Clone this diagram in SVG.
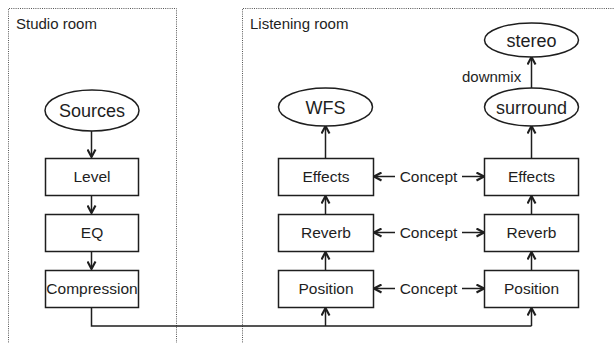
<svg xmlns="http://www.w3.org/2000/svg" width="614" height="343" viewBox="0 0 614 343">
  <defs>
    <marker id="head" viewBox="0 0 10 10" refX="9" refY="5" markerWidth="10" markerHeight="10" markerUnits="userSpaceOnUse" orient="auto-start-reverse">
      <path d="M1.5 1 L9 5 L1.5 9" fill="none" stroke="#1e1e1e" stroke-width="2.1"/>
    </marker>
    <style>
      .room { fill: none; stroke: #555; stroke-width: 1; stroke-dasharray: 1 1.2; }
      .node rect, .node ellipse { fill: #fff; stroke: #1e1e1e; stroke-width: 1.5; }
      text { font-family: "Liberation Sans", Arial, sans-serif; fill: #1e1e1e; }
      .title { font-size: 15px; }
      .box { font-size: 15.5px; text-anchor: middle; }
      .oval { font-size: 18px; text-anchor: middle; }
      .lbl { font-size: 15.5px; text-anchor: middle; }
      .edge { fill: none; stroke: #1e1e1e; stroke-width: 1.5; }
      .arr { marker-end: url(#head); }
    </style>
  </defs>
  <rect width="614" height="343" fill="#fff"/>

  <!-- rooms -->
  <g id="studio-room">
    <path class="room" d="M8.5 360 V8.5 H176.5 V360"/>
    <text class="title" x="16" y="29">Studio room</text>
  </g>
  <g id="listening-room">
    <path class="room" d="M242.5 360 V8.5 H630"/>
    <text class="title" x="250" y="29">Listening room</text>
  </g>

  <!-- connectors -->
  <g id="connectors">
    <path class="edge arr" d="M91.5 131 V157"/>
    <path class="edge arr" d="M91.5 195 V213"/>
    <path class="edge arr" d="M91.5 251 V269"/>
    <path class="edge" d="M91.5 307 V326 H531.5"/>
    <path class="edge arr" d="M325.5 326 V308"/>
    <path class="edge arr" d="M531.5 326 V308"/>
    <path class="edge arr" d="M325.5 270 V252"/>
    <path class="edge arr" d="M531.5 270 V252"/>
    <path class="edge arr" d="M325.5 214 V196"/>
    <path class="edge arr" d="M531.5 214 V196"/>
    <path class="edge arr" d="M325.5 158 V126"/>
    <path class="edge arr" d="M531.5 158 V126"/>
    <path class="edge arr" d="M531.5 88 V57"/>
    <text class="title" x="462" y="82">downmix</text>
    <!-- concept links -->
    <path class="edge arr" d="M395 176.5 H374"/>
    <path class="edge arr" d="M462 176.5 H484"/>
    <text class="lbl" x="428.5" y="182">Concept</text>
    <path class="edge arr" d="M395 232.5 H374"/>
    <path class="edge arr" d="M462 232.5 H484"/>
    <text class="lbl" x="428.5" y="238">Concept</text>
    <path class="edge arr" d="M395 288.5 H374"/>
    <path class="edge arr" d="M462 288.5 H484"/>
    <text class="lbl" x="428.5" y="294">Concept</text>
  </g>

  <!-- studio chain -->
  <g id="sources" class="node">
    <ellipse cx="92" cy="110.5" rx="47" ry="20.5"/>
    <text class="oval" x="92" y="117">Sources</text>
  </g>
  <g id="level" class="node">
    <rect x="45.5" y="158.5" width="93" height="37"/>
    <text class="box" x="92" y="182">Level</text>
  </g>
  <g id="eq" class="node">
    <rect x="45.5" y="214.5" width="93" height="37"/>
    <text class="box" x="92" y="238">EQ</text>
  </g>
  <g id="compression" class="node">
    <rect x="45.5" y="270.5" width="93" height="37"/>
    <text class="box" x="92" y="294">Compression</text>
  </g>

  <!-- WFS chain -->
  <g id="wfs" class="node">
    <ellipse cx="325.5" cy="107" rx="47" ry="19"/>
    <text class="oval" x="325.5" y="113.5">WFS</text>
  </g>
  <g id="effects-wfs" class="node">
    <rect x="278.5" y="158.5" width="95" height="37"/>
    <text class="box" x="326" y="182">Effects</text>
  </g>
  <g id="reverb-wfs" class="node">
    <rect x="278.5" y="214.5" width="95" height="37"/>
    <text class="box" x="326" y="238">Reverb</text>
  </g>
  <g id="position-wfs" class="node">
    <rect x="278.5" y="270.5" width="95" height="37"/>
    <text class="box" x="326" y="294">Position</text>
  </g>

  <!-- surround chain -->
  <g id="stereo" class="node">
    <ellipse cx="531.5" cy="40" rx="47" ry="17"/>
    <text class="oval" x="531.5" y="46.5">stereo</text>
  </g>
  <g id="surround" class="node">
    <ellipse cx="531.5" cy="107" rx="47" ry="19"/>
    <text class="oval" x="531.5" y="113.5">surround</text>
  </g>
  <g id="effects-surround" class="node">
    <rect x="484.5" y="158.5" width="94" height="37"/>
    <text class="box" x="531.5" y="182">Effects</text>
  </g>
  <g id="reverb-surround" class="node">
    <rect x="484.5" y="214.5" width="94" height="37"/>
    <text class="box" x="531.5" y="238">Reverb</text>
  </g>
  <g id="position-surround" class="node">
    <rect x="484.5" y="270.5" width="94" height="37"/>
    <text class="box" x="531.5" y="294">Position</text>
  </g>
</svg>
